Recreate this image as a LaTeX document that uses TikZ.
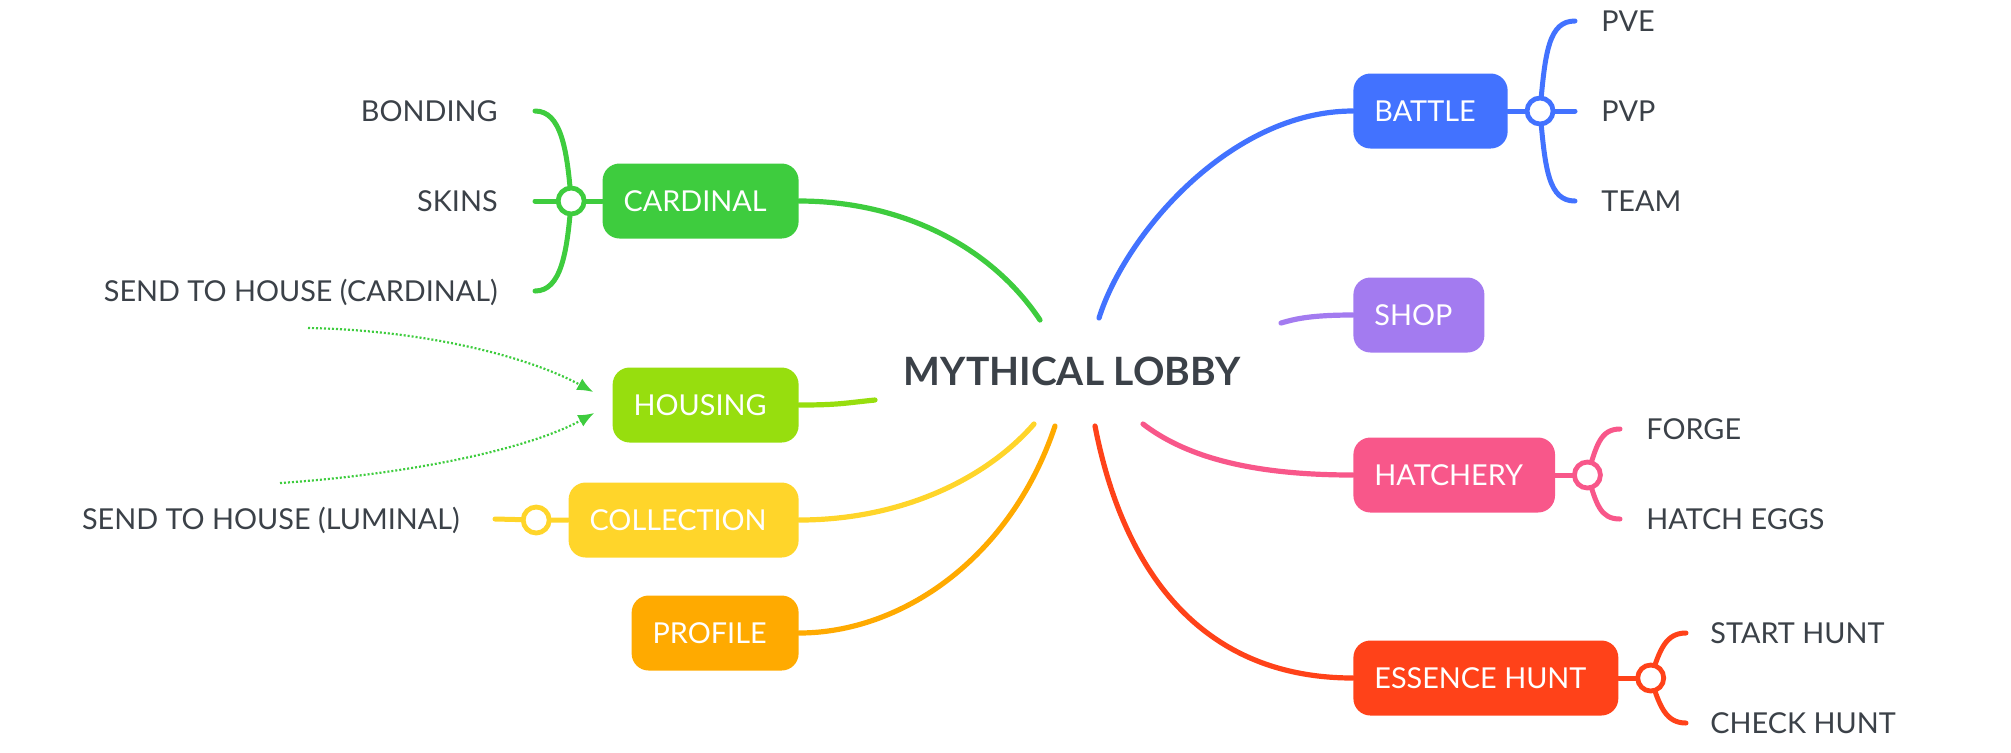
\documentclass[tikz,border=0pt]{standalone}
\usepackage{fontspec}
\setmainfont{Lato}
\usetikzlibrary{calc,arrows.meta}

\definecolor{cardgreen}{HTML}{3ECC3E}
\definecolor{houselime}{HTML}{97DE0E}
\definecolor{collyellow}{HTML}{FFD52A}
\definecolor{proforange}{HTML}{FFAA00}
\definecolor{battleblue}{HTML}{4272FF}
\definecolor{shoppurple}{HTML}{A37BF0}
\definecolor{hatchpink}{HTML}{F8578A}
\definecolor{huntred}{HTML}{FF4219}
\definecolor{inkgray}{HTML}{3B4148}

\tikzset{
  topic/.style={fill=#1, text=white, rounded corners=8.5pt, minimum height=37.5pt,
    inner xsep=10.5pt, font=\fontsize{14.4}{16}\selectfont,
    text height=10.4pt, text depth=0pt, execute at end node={\hspace{5.5pt}}},
  leaf/.style={text=inkgray, font=\fontsize{14.4}{16}\selectfont,
    text height=10.4pt, text depth=0pt, inner sep=0pt},
  trunk/.style={draw=#1, line width=2.6pt},
  twig/.style={draw=#1, line width=2.5pt},
  knot/.style={circle, draw=#1, fill=white, line width=2.4pt, minimum size=13pt, inner sep=0pt},
  sendarrow/.style={draw=cardgreen, line width=1.1pt, line cap=butt,
    dash pattern=on 1pt off 1pt, ->}
}

\begin{document}
\begin{tikzpicture}[x=0.5pt,y=-0.5pt,line cap=round,>={Latex[length=8pt,width=6.5pt]}]
        \useasboundingbox (0,0) rectangle (2011,752);

        % the central topic
        \node[text=inkgray, font=\bfseries\fontsize{19.5}{22}\selectfont, inner sep=0pt]
              (lobby) at (1072,371) {MYTHICAL LOBBY};

        % main topics on the left
        \foreach \nm/\y/\col/\txt in {
            cardinal/201/cardgreen/CARDINAL,
            housing/405/houselime/HOUSING,
            collection/520/collyellow/COLLECTION,
            profile/633/proforange/PROFILE}
                \node[topic=\col, anchor=east] (\nm) at (799,\y) {\txt};

        % main topics on the right
        \foreach \nm/\y/\col/\txt in {
            battle/111/battleblue/BATTLE,
            shop/315/shoppurple/SHOP,
            hatchery/475/hatchpink/HATCHERY,
            essence/678/huntred/ESSENCE HUNT}
                \node[topic=\col, anchor=west] (\nm) at (1353,\y) {\txt};

        % subtopics
        \foreach \nm/\x/\y/\txt in {
            bonding/498/111/BONDING,
            skins/498/201/SKINS,
            sendcard/498/291/SEND TO HOUSE (CARDINAL),
            sendlum/460/519/SEND TO HOUSE (LUMINAL)}
                \node[leaf, anchor=east] (\nm) at (\x,\y) {\txt};
        \foreach \nm/\x/\y/\txt in {
            pve/1601/21/PVE,
            pvp/1601/111/PVP,
            team/1601/201/TEAM,
            forge/1646/429/FORGE,
            eggs/1646/519/HATCH EGGS,
            starthunt/1710/633/START HUNT,
            checkhunt/1710/723/CHECK HUNT}
                \node[leaf, anchor=west] (\nm) at (\x,\y) {\txt};

        % free ends round the central topic
        \coordinate (endcardinal) at (1040,320);
        \coordinate (endhousing) at (875,400);
        \coordinate (endcollection) at (1034,424);
        \coordinate (endprofile) at (1055,426);
        \coordinate (endbattle) at (1099,318);
        \coordinate (endshop) at (1281,323);
        \coordinate (endhatchery) at (1143,424);
        \coordinate (endessence) at (1095,426);

        % connectors to the central topic
        \draw[trunk=cardgreen] (cardinal.east) .. controls +(101,0) and +(-50,-75) .. (endcardinal);
        \draw[trunk=houselime] (housing.east) .. controls +(40,0) and +(-30,3) .. (endhousing);
        \draw[trunk=collyellow] (collection.east) .. controls +(101,0) and +(-49,56) .. (endcollection);
        \draw[trunk=proforange] (profile.east) .. controls +(101,0) and +(-45,134) .. (endprofile);
        \draw[trunk=battleblue] (battle.west) .. controls +(-123,0) and +(26,-83) .. (endbattle);
        \draw[trunk=shoppurple] (shop.west) .. controls +(-43,0) and +(14,-4) .. (endshop);
        \draw[trunk=hatchpink] (hatchery.west) .. controls +(-93,0) and +(47,36) .. (endhatchery);
        \draw[trunk=huntred] (essence.west) .. controls +(-163,0) and +(25,129) .. (endessence);

        % junctions next to the main topics
        \coordinate (jcardinal) at ($(cardinal.west)+(-31,0)$);
        \coordinate (jbattle) at ($(battle.east)+(32,0)$);
        \coordinate (jcollection) at ($(collection.west)+(-32,0)$);
        \coordinate (jhatchery) at ($(hatchery.east)+(32,0)$);
        \coordinate (jessence) at ($(essence.east)+(32,0)$);

        % branches to the subtopics
        \draw[twig=cardgreen] (cardinal.west) -- (jcardinal) -- ($(skins.east)+(37,0)$);
        \draw[twig=cardgreen] (jcardinal) .. controls +(-4,-52) and +(26,0) .. ($(bonding.east)+(37,0)$);
        \draw[twig=cardgreen] (jcardinal) .. controls +(-4,52) and +(26,0) .. ($(sendcard.east)+(37,0)$);
        \draw[twig=collyellow] (collection.west) -- (jcollection) -- ($(sendlum.east)+(35,0)$);
        \draw[twig=battleblue] (battle.east) -- (jbattle) -- ($(pvp.west)+(-26,0)$);
        \draw[twig=battleblue] (jbattle) .. controls +(5,-60) and +(-26,0) .. ($(pve.west)+(-26,0)$);
        \draw[twig=battleblue] (jbattle) .. controls +(5,60) and +(-26,0) .. ($(team.west)+(-26,0)$);
        \draw[twig=hatchpink] (hatchery.east) -- (jhatchery);
        \draw[twig=hatchpink] (jhatchery) .. controls +(9,-29) and +(-20,0) .. ($(forge.west)+(-26,0)$);
        \draw[twig=hatchpink] (jhatchery) .. controls +(9,29) and +(-20,0) .. ($(eggs.west)+(-26,0)$);
        \draw[twig=huntred] (essence.east) -- (jessence);
        \draw[twig=huntred] (jessence) .. controls +(9,-29) and +(-20,0) .. ($(starthunt.west)+(-24,0)$);
        \draw[twig=huntred] (jessence) .. controls +(9,29) and +(-20,0) .. ($(checkhunt.west)+(-24,0)$);

        % rings on the junctions
        \foreach \j/\col in {jcardinal/cardgreen, jbattle/battleblue, jcollection/collyellow,
                             jhatchery/hatchpink, jessence/huntred}
                \node[knot=\col] (\j-ring) at (\j) {};

        % the two send-to-house links
        \coordinate (cardinalsend) at (308,328);
        \coordinate (luminalsend) at (280,483);
        \draw[sendarrow] (cardinalsend) .. controls +(112,2) and +(-68,-37) .. ([xshift=-9.5pt,yshift=6.5pt]housing.west);
        \draw[sendarrow] (luminalsend) .. controls +(120,-8) and +(-69,38) .. ([xshift=-9pt,yshift=-4pt]housing.west);
\end{tikzpicture}
\end{document}
